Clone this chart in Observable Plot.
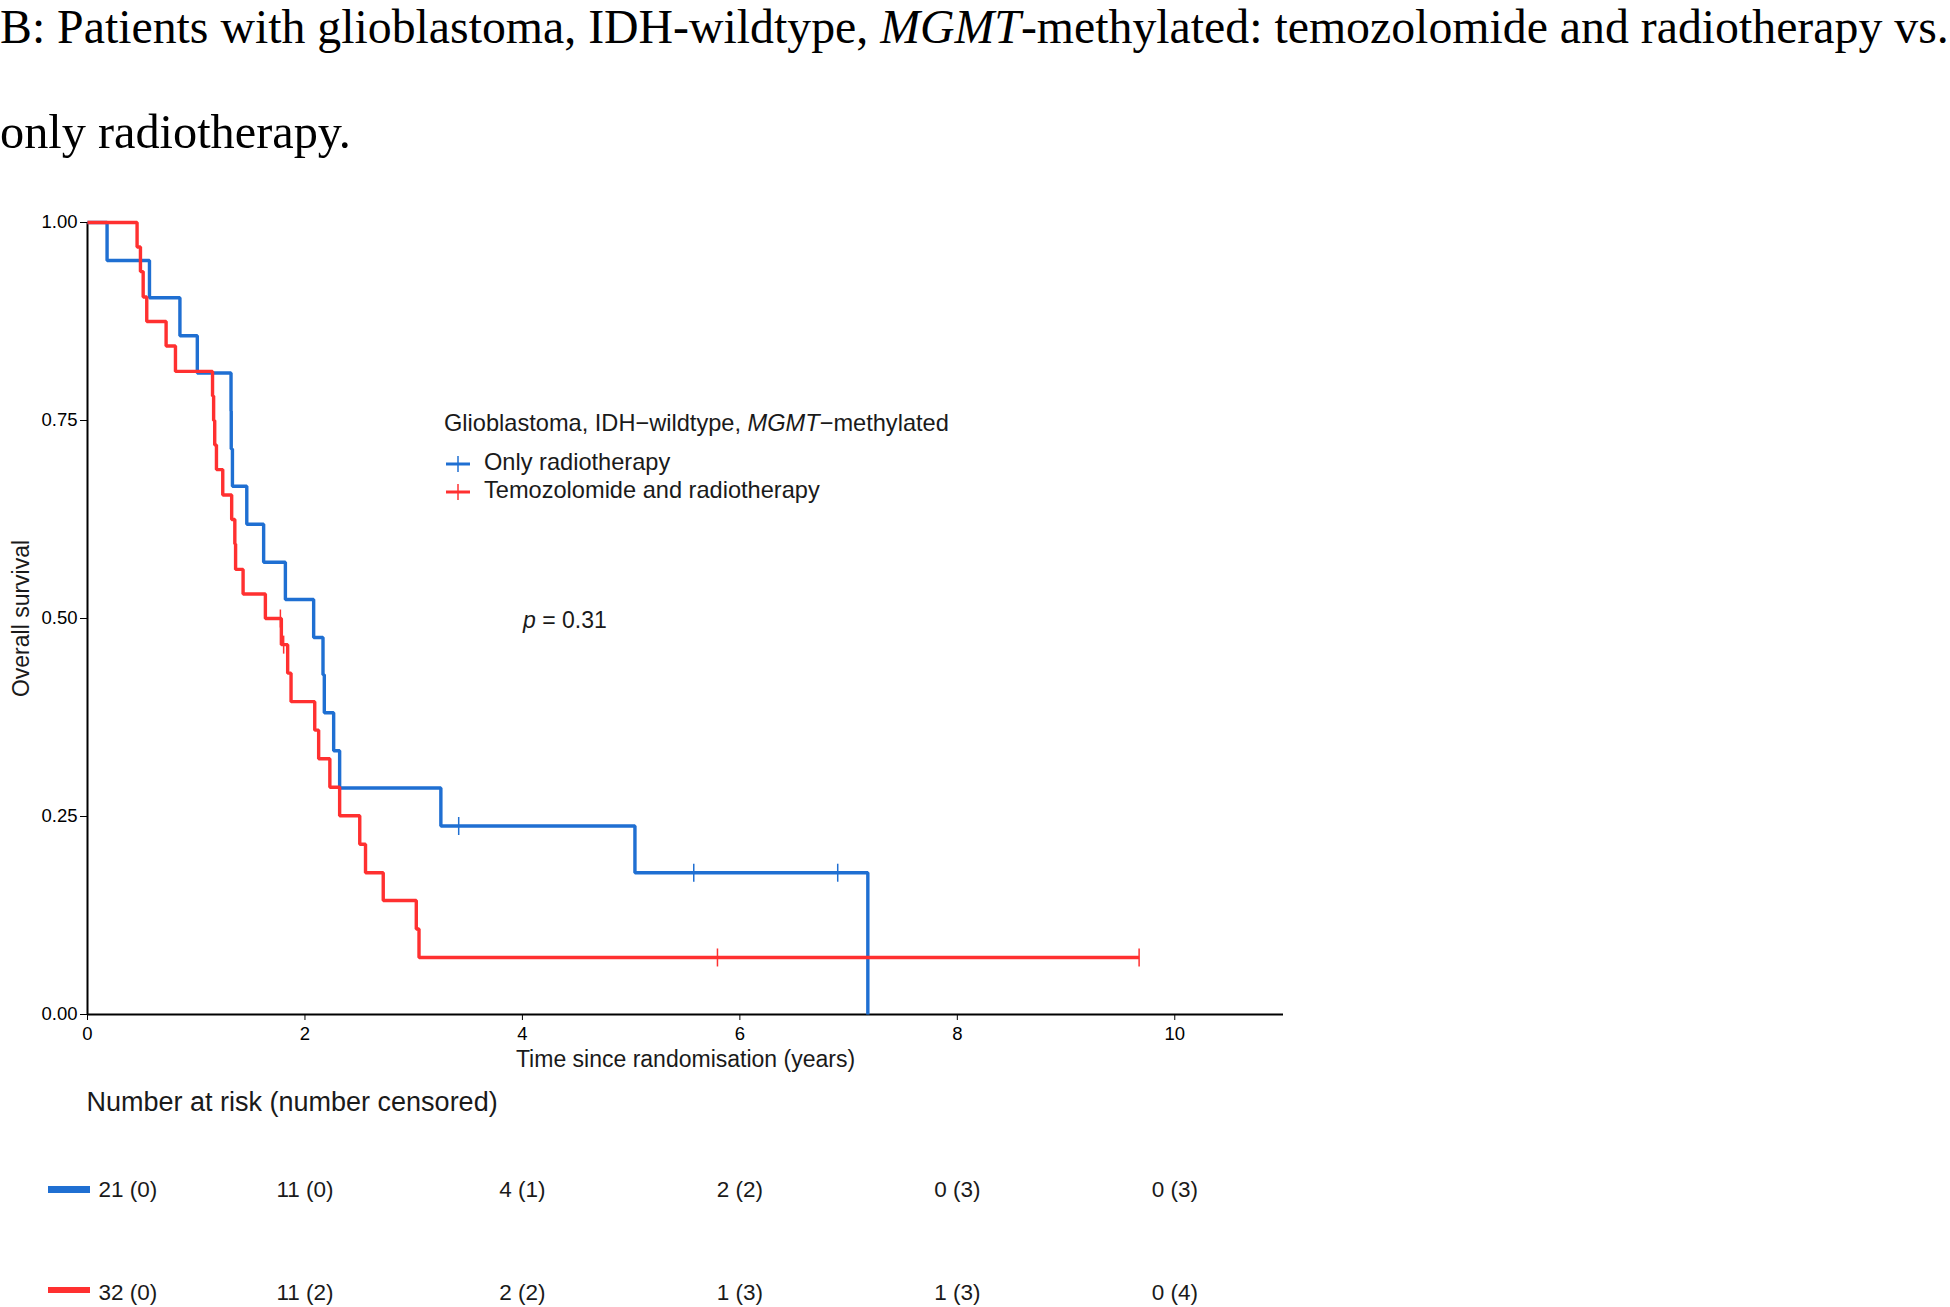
<!DOCTYPE html>
<html>
<head>
<meta charset="utf-8">
<script src="https://cdn.jsdelivr.net/npm/d3@7"></script>
<script src="https://cdn.jsdelivr.net/npm/@observablehq/plot@0.6"></script>
<style>
  html, body { margin: 0; padding: 0; background: #fff; }
  #page { position: relative; width: 1950px; height: 1307px; overflow: hidden; background: #fff; }
  .serif { font-family: "Liberation Serif", "Times New Roman", serif; color: #000; }
  .sans { font-family: "Liberation Sans", Arial, sans-serif; color: #1a1a1a; }
  .abs { position: absolute; white-space: nowrap; line-height: 1; }
  .tight { line-height: 0.75; }
  #km, #risk { position: absolute; left: 0; }
  #km svg, #risk svg { display: block; }
</style>
</head>
<body>
<div id="page">
  <div class="abs serif tight" style="left:0; top:8.6px; font-size:47.8px;">B: Patients with glioblastoma, IDH-wildtype, <i>MGMT</i>-methylated: temozolomide and radiotherapy vs.</div>
  <div class="abs serif tight" style="left:0; top:114px; font-size:48.3px;">only radiotherapy.</div>
  <div id="km" style="top:160px;"></div>
  <div id="risk" style="top:1140px;"></div>
  <div id="legend"></div>
  <div class="abs sans" style="left:523px; top:608.5px; font-size:23px;"><i>p</i> = 0.31</div>
  <div class="abs sans" style="left:86.5px; top:1088.8px; font-size:27px;">Number at risk (number censored)</div>
</div>
<script>
// ---- data ----
const groups = ["Only radiotherapy", "Temozolomide and radiotherapy"];
const colors = ["#1f6fd2", "#ff3030"];

// Kaplan–Meier step points (time in years, survival probability)
const blueTimes = [0, 0.18, 0.57, 0.85, 1.01, 1.32, 1.322, 1.333, 1.465, 1.62, 1.82, 2.08, 2.166, 2.178, 2.264, 2.319, 3.25, 5.035, 7.177];
const blueSurv  = [1, 0.952, 0.905, 0.857, 0.810, 0.762, 0.714, 0.667, 0.619, 0.571, 0.524, 0.476, 0.429, 0.381, 0.333, 0.286, 0.238, 0.179, 0];

const redTimes = [0, 0.456, 0.487, 0.512, 0.545, 0.723, 0.809, 1.15, 1.16, 1.17, 1.186, 1.244, 1.326, 1.355, 1.362, 1.431, 1.636, 1.783, 1.841, 1.872, 2.09, 2.126, 2.229, 2.319, 2.504, 2.557, 2.72, 3.024, 3.049, 9.672];
const redSurv  = [1, 0.969, 0.938, 0.906, 0.875, 0.844, 0.812, 0.781, 0.75, 0.719, 0.688, 0.656, 0.625, 0.594, 0.562, 0.531, 0.5, 0.467, 0.431, 0.395, 0.359, 0.323, 0.287, 0.251, 0.215, 0.179, 0.144, 0.108, 0.072, 0.072];

// censoring marks
const blueCensorTimes = [3.414, 5.576, 6.90];
const blueCensorSurv  = [0.238, 0.179, 0.179];
const redCensorTimes  = [1.774, 1.804, 5.794, 9.672];
const redCensorSurv   = [0.5, 0.467, 0.072, 0.072];

// number at risk table
const riskTimes = [0, 2, 4, 6, 8, 10];
const blueAtRisk = [21, 11, 4, 2, 0, 0];
const blueCensored = [0, 0, 1, 2, 3, 3];
const redAtRisk = [32, 11, 2, 1, 1, 0];
const redCensored = [0, 2, 2, 3, 3, 4];

// axis ticks
const xTicks = [0, 2, 4, 6, 8, 10];
const yTicks = [0, 0.25, 0.5, 0.75, 1];

// ---- build tables ----
const curveData = [
  ...blueTimes.map((t, i) => ({group: groups[0], time: t, surv: blueSurv[i]})),
  ...redTimes.map((t, i) => ({group: groups[1], time: t, surv: redSurv[i]}))
];
const censorData = [
  ...blueCensorTimes.map((t, i) => ({group: groups[0], time: t, surv: blueCensorSurv[i]})),
  ...redCensorTimes.map((t, i) => ({group: groups[1], time: t, surv: redCensorSurv[i]}))
];
const riskData = [
  ...riskTimes.map((t, i) => ({group: groups[0], time: t, label: `${blueAtRisk[i]} (${blueCensored[i]})`})),
  ...riskTimes.map((t, i) => ({group: groups[1], time: t, label: `${redAtRisk[i]} (${redCensored[i]})`}))
];

const font = "'Liberation Sans', Arial, sans-serif";

// vertical censor tick symbol
const vtick = {
  draw(context, size) {
    const r = Math.sqrt(size / Math.PI);
    context.moveTo(0, -r);
    context.lineTo(0, r);
  }
};

const km = Plot.plot({
  width: 1950, height: 924,
  marginTop: 62, marginBottom: 70, marginLeft: 87, marginRight: 667,
  style: {fontFamily: font, fontSize: "18.5px", color: "#000", background: "transparent", overflow: "visible"},
  x: {domain: [0, 11], ticks: xTicks, tickSize: 6, tickPadding: 6, label: null},
  y: {domain: [0, 1], ticks: yTicks, tickFormat: ".2f", tickSize: 7, tickPadding: 3, label: null},
  color: {domain: groups, range: colors},
  marks: [
    Plot.ruleX([0], {stroke: "#000", strokeWidth: 2}),
    Plot.ruleY([0], {stroke: "#000", strokeWidth: 2}),
    Plot.line(curveData, {x: "time", y: "surv", z: "group", stroke: "group", strokeWidth: 3.4, curve: "step-after", strokeLinejoin: "miter", strokeLinecap: "butt"}),
    Plot.dot(censorData, {x: "time", y: "surv", stroke: "group", symbol: vtick, r: 9, strokeWidth: 1.5}),
    Plot.text(["Overall survival"], {frameAnchor: "left", rotate: -90, dx: -66, textAnchor: "middle", lineAnchor: "middle", fontSize: 23, fill: "#1a1a1a"}),
    Plot.text(["Time since randomisation (years)"], {frameAnchor: "bottom", dy: 52, textAnchor: "middle", lineAnchor: "bottom", fontSize: 23, fill: "#1a1a1a"})
  ]
});
document.getElementById("km").appendChild(km);

const risk = Plot.plot({
  width: 1950, height: 167,
  marginTop: 0, marginBottom: 0, marginLeft: 87, marginRight: 667,
  style: {fontFamily: font, fontSize: "22.5px", color: "#1a1a1a", background: "transparent", overflow: "visible"},
  x: {domain: [0, 11], axis: null},
  y: {type: "point", domain: groups, range: [49, 152], padding: 0, axis: null},
  marks: [
    Plot.text(riskData.filter(d => d.time === 0), {x: "time", y: "group", text: "label", textAnchor: "start", dx: 11, fill: "#1a1a1a"}),
    Plot.text(riskData.filter(d => d.time !== 0), {x: "time", y: "group", text: "label", fill: "#1a1a1a"})
  ]
});
document.getElementById("risk").appendChild(risk);

// ---- legend (HTML) ----
const legend = document.getElementById("legend");
const legendTitle = document.createElement("div");
legendTitle.className = "abs sans";
legendTitle.style.cssText = "left:444px; top:412.3px; font-size:23.6px;";
legendTitle.innerHTML = "Glioblastoma, IDH\u2212wildtype, <i>MGMT</i>\u2212methylated";
legend.appendChild(legendTitle);
const itemTops = [450.7, 479.0];
const keyCenters = [464.2, 491.7];
groups.forEach((g, i) => {
  const key = document.createElementNS("http://www.w3.org/2000/svg", "svg");
  key.setAttribute("width", 26); key.setAttribute("height", 18);
  key.style.cssText = `position:absolute; left:445px; top:${keyCenters[i] - 9}px;`;
  key.innerHTML = `<line x1="1" x2="25" y1="9" y2="9" stroke="${colors[i]}" stroke-width="3"/>` +
                  `<line x1="13" x2="13" y1="1" y2="17" stroke="${colors[i]}" stroke-width="1.5"/>`;
  legend.appendChild(key);
  const lab = document.createElement("div");
  lab.className = "abs sans";
  lab.style.cssText = `left:484px; top:${itemTops[i]}px; font-size:23.6px;`;
  lab.textContent = g;
  legend.appendChild(lab);
  // risk-table row keys
  const dash = document.createElement("div");
  dash.style.cssText = `position:absolute; left:48px; width:42px; height:6.5px; top:${i === 0 ? 1186 : 1286.5}px; background:${colors[i]};`;
  legend.appendChild(dash);
});
</script>
</body>
</html>
